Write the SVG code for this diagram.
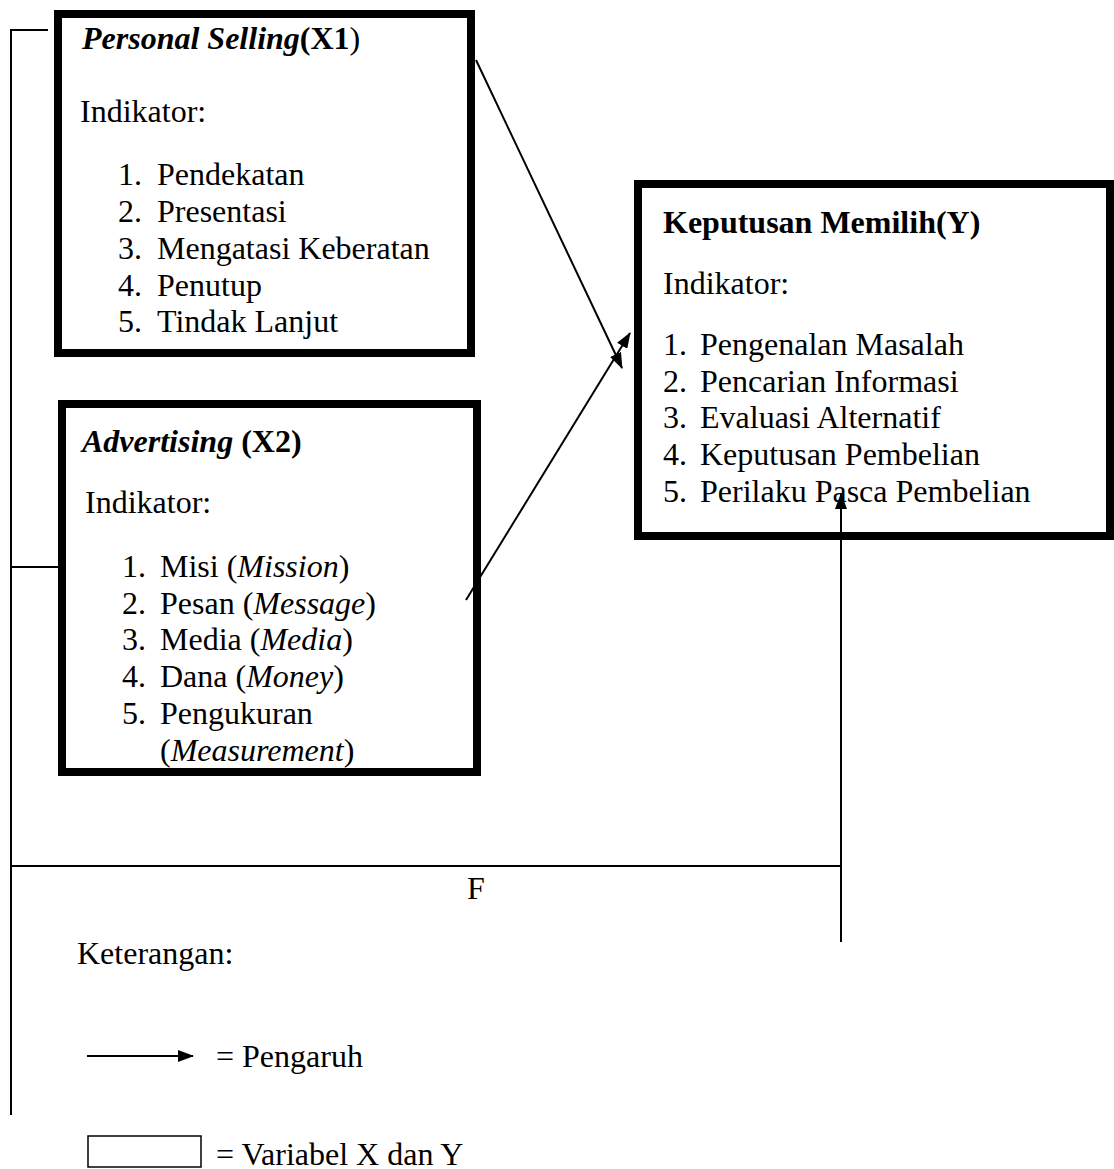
<svg xmlns="http://www.w3.org/2000/svg" width="1114" height="1169" viewBox="0 0 1114 1169">
<defs>
<style>
text{font-family:"Liberation Serif","Times New Roman",serif;font-size:32px;fill:#000}
.b{font-weight:bold}
.i{font-style:italic}
.box{fill:#fff;stroke:#000;stroke-width:8}
.ln{stroke:#000;stroke-width:2;fill:none}
</style>
<marker id="ah" viewBox="0 0 16 12" refX="15" refY="6" markerWidth="8" markerHeight="6" markerUnits="strokeWidth" orient="auto">
<path d="M0,0 L16,6 L0,12 z" fill="#000"/>
</marker>
</defs>
<g id="x1">
<rect class="box" x="58" y="14" width="413" height="339"/>
<text x="82" y="49"><tspan class="b i">Personal Selling</tspan><tspan class="b">(X1</tspan>)</text>
<text x="80" y="122">Indikator:</text>
<text x="118" y="185">1.</text><text x="157" y="185">Pendekatan</text>
<text x="118" y="222">2.</text><text x="157" y="222">Presentasi</text>
<text x="118" y="259">3.</text><text x="157" y="259">Mengatasi Keberatan</text>
<text x="118" y="296">4.</text><text x="157" y="296">Penutup</text>
<text x="118" y="332">5.</text><text x="157" y="332">Tindak Lanjut</text>
</g>
<g id="x2">
<rect class="box" x="62" y="404" width="415" height="368"/>
<text x="82" y="452"><tspan class="b i">Advertising</tspan> <tspan class="b">(X2)</tspan></text>
<text x="85" y="513">Indikator:</text>
<text x="122" y="577">1.</text><text x="160" y="577">Misi (<tspan class="i">Mission</tspan>)</text>
<text x="122" y="614">2.</text><text x="160" y="614">Pesan (<tspan class="i">Message</tspan>)</text>
<text x="122" y="650">3.</text><text x="160" y="650">Media (<tspan class="i">Media</tspan>)</text>
<text x="122" y="687">4.</text><text x="160" y="687">Dana (<tspan class="i">Money</tspan>)</text>
<text x="122" y="724">5.</text><text x="160" y="724">Pengukuran</text>
<text x="160" y="761">(<tspan class="i">Measurement</tspan>)</text>
</g>
<g id="y">
<rect class="box" x="638" y="184" width="472" height="352"/>
<text x="663" y="233" class="b">Keputusan Memilih(Y)</text>
<text x="663" y="294">Indikator:</text>
<text x="663" y="355">1.</text><text x="700" y="355">Pengenalan Masalah</text>
<text x="663" y="392">2.</text><text x="700" y="392">Pencarian Informasi</text>
<text x="663" y="428">3.</text><text x="700" y="428">Evaluasi Alternatif</text>
<text x="663" y="465">4.</text><text x="700" y="465">Keputusan Pembelian</text>
<text x="663" y="502">5.</text><text x="700" y="502">Perilaku Pasca Pembelian</text>
</g>
<g id="connectors">
<polyline class="ln" points="48,30 11,30 11,1115"/>
<line class="ln" x1="11" y1="567" x2="58" y2="567"/>
<line class="ln" x1="11" y1="866" x2="841" y2="866"/>
<line class="ln" x1="841" y1="942" x2="841" y2="494" marker-end="url(#ah)"/>
<line class="ln" x1="476" y1="60" x2="622" y2="368" marker-end="url(#ah)"/>
<line class="ln" x1="466" y1="600" x2="630" y2="333" marker-end="url(#ah)"/>
<text x="467" y="899">F</text>
</g>
<g id="legend">
<text x="77" y="964">Keterangan:</text>
<line class="ln" x1="87" y1="1056" x2="193" y2="1056" marker-end="url(#ah)"/>
<text x="216" y="1067">= Pengaruh</text>
<rect x="88" y="1136" width="113" height="31" fill="#fff" stroke="#000" stroke-width="1.5"/>
<text x="216" y="1165">= Variabel X dan Y</text>
</g>
</svg>
